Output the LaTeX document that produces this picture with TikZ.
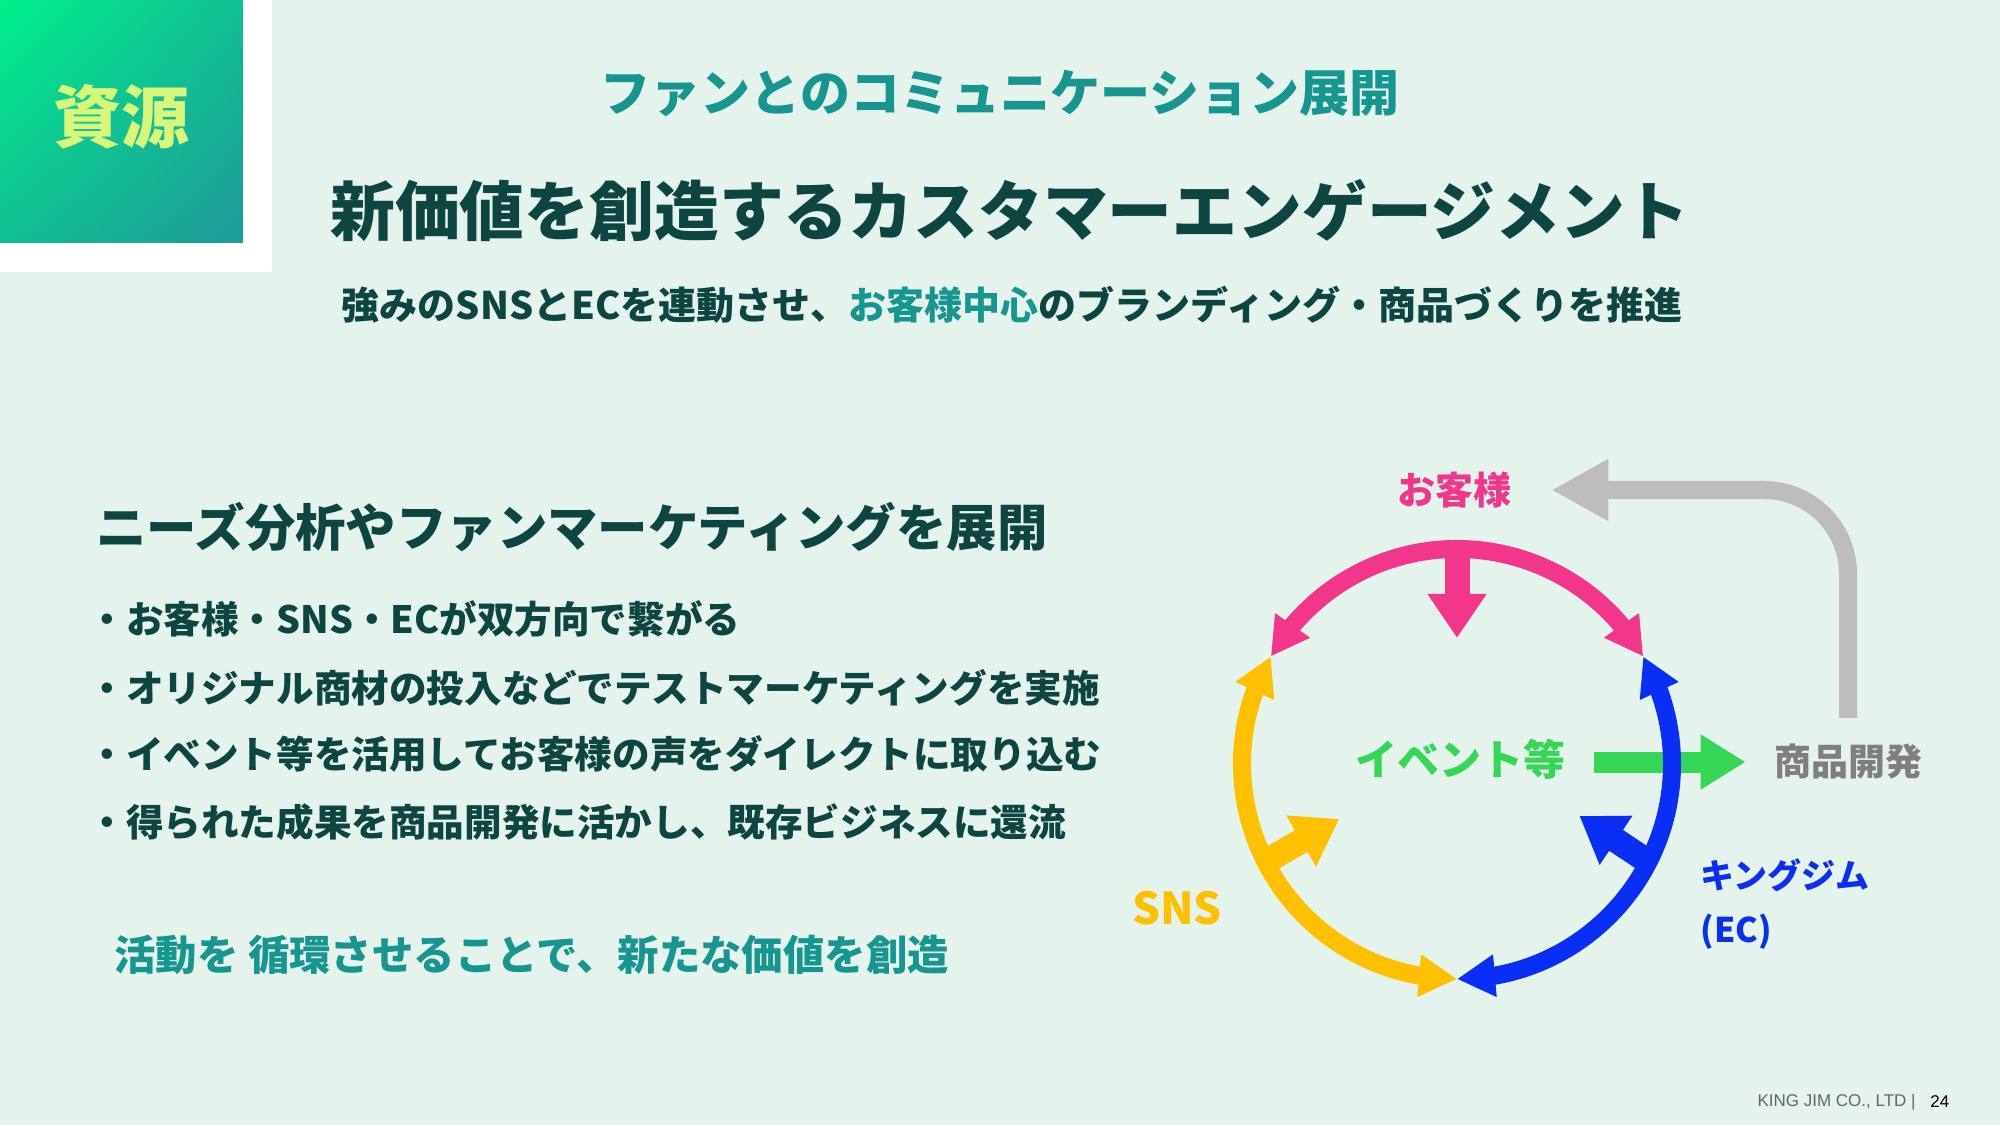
\documentclass[tikz,border=0pt]{standalone}
\usepackage{fontspec}
\setmainfont{Noto Sans CJK JP}
\newfontfamily\footfont{Liberation Sans}
\usetikzlibrary{arrows.meta,bending,calc,shadings}
\definecolor{KJbg}{HTML}{E4F3EC}
\definecolor{KJdark}{HTML}{0E4540}
\definecolor{KJteal}{HTML}{17958F}
\definecolor{KJpink}{HTML}{F2368C}
\definecolor{KJyellow}{HTML}{FFC000}
\definecolor{KJblue}{HTML}{0A2EF5}
\definecolor{KJgreen}{HTML}{36D657}
\definecolor{KJgray}{HTML}{BDBDBD}
\definecolor{KJgraytext}{HTML}{7F7F7F}
\definecolor{KJlime}{HTML}{D8F77A}
\definecolor{KJgradA}{HTML}{00F08C}
\definecolor{KJgradB}{HTML}{12BE93}
\definecolor{KJgradC}{HTML}{1E9A99}
\newcommand{\jpsize}[1]{\fontsize{#1}{#1}\selectfont\bfseries}

\begin{document}
\begin{tikzpicture}[x=0.5pt,y=0.5pt,
  txt/.style={inner sep=0pt,text=KJdark},
  ring/.style={line width=9pt,>={Triangle[width=20pt,length=19pt]},<->},
  spoke/.style={line width=12.5pt,->,>={Triangle[width=28pt,length=22pt]}}]
  \useasboundingbox (0,0) rectangle (2000,1125);
  \fill[KJbg] (0,0) rectangle (2000,1125);
  % badge top left
  \fill[white] (0,853) rectangle (272,1125);
  \shade[upper left=KJgradA,upper right=KJgradB,lower left=KJgradB,lower right=KJgradC] (0,882) rectangle (243,1125);
  \node[txt,text=KJlime,font=\jpsize{34}] (badge) at (121,1008) {資源};
  % headings
  \node[txt,text=KJteal,font=\jpsize{25}] (kicker) at (1000,1031) {ファンとのコミュニケーション展開};
  \node[txt,font=\jpsize{32.4}] (title) at (1010,914) {新価値を創造するカスタマーエンゲージメント};
  \node[txt,font=\jpsize{19}] (lead) at (1012,820) {強みのSNSとECを連動させ、\textcolor{KJteal}{お客様中心}のブランディング・商品づくりを推進};
  % left column
  \node[txt,anchor=west,font=\jpsize{25.2}] (needs) at (96,598) {ニーズ分析やファンマーケティングを展開};
  \node[txt,anchor=west,font=\jpsize{18.8}] (pt1) at (88,506) {・お客様・SNS・ECが双方向で繋がる};
  \node[txt,anchor=west,font=\jpsize{18.8}] (pt2) at (88,437) {・オリジナル商材の投入などでテストマーケティングを実施};
  \node[txt,anchor=west,font=\jpsize{18.8}] (pt3) at (88,371) {・イベント等を活用してお客様の声をダイレクトに取り込む};
  \node[txt,anchor=west,font=\jpsize{18.8}] (pt4) at (88,303) {・得られた成果を商品開発に活かし、既存ビジネスに還流};
  \node[txt,anchor=west,text=KJteal,font=\jpsize{20.7}] (cycle) at (114,170) {活動を 循環させることで、新たな価値を創造};
  % cycle diagram
  \coordinate (hub) at (1457,361);
  \path (hub) ++(30:215) coordinate (jr) (hub) ++(150:215) coordinate (jl) (hub) ++(270:215) coordinate (jb);
  \node[txt,text=KJpink,font=\jpsize{19}] (cust) at (1454,635) {お客様};
  \node[txt,text=KJgreen,font=\jpsize{21}] (event) at (1460,366) {イベント等};
  \node[txt,text=KJgraytext,font=\jpsize{18.5}] (dev) at (1848,363) {商品開発};
  \node[txt,text=KJblue,font=\jpsize{17},anchor=west,align=left] (ec) at (1700,221) {キングジム\\[10pt](EC)};
  \node[txt,text=KJyellow,font=\jpsize{22}] (sns) at (1177,217) {SNS};
  \draw[KJgreen,line width=10.5pt,-{Triangle[width=26pt,length=22.5pt]},shorten <=14.5pt,shorten >=14pt] (event.east |- dev.west) -- (dev.west);
  \draw[KJgray,line width=9pt,rounded corners=42pt,-{Triangle[width=29pt,length=28.5pt]},shorten <=13pt] (dev.north) |- ([xshift=20pt]cust.east);
  \draw[spoke,KJpink] ($(hub)+(90:212)$) -- ($(hub)+(90:126)$);
  \draw[spoke,KJyellow] ($(hub)+(207:212)$) -- ($(hub)+(205:130)$);
  \draw[spoke,KJblue] ($(hub)+(333:212)$) -- ($(hub)+(337:133)$);
  \draw[ring,KJpink] (jr) arc[start angle=30,end angle=150,radius=215];
  \draw[ring,KJyellow] (jl) arc[start angle=150,end angle=270,radius=215];
  \draw[ring,KJblue] (jb) arc[start angle=270,end angle=390,radius=215];
  % footer
  \node[inner sep=0pt,anchor=east,text=KJgraytext!80!black,font=\footfont\fontsize{8.5}{8.5}\selectfont] (corp) at (1916,23) {KING JIM CO., LTD |};
  \node[inner sep=0pt,anchor=west,font=\footfont\fontsize{8.5}{8.5}\selectfont] (page) at (1930,23) {24};
\end{tikzpicture}
\end{document}
